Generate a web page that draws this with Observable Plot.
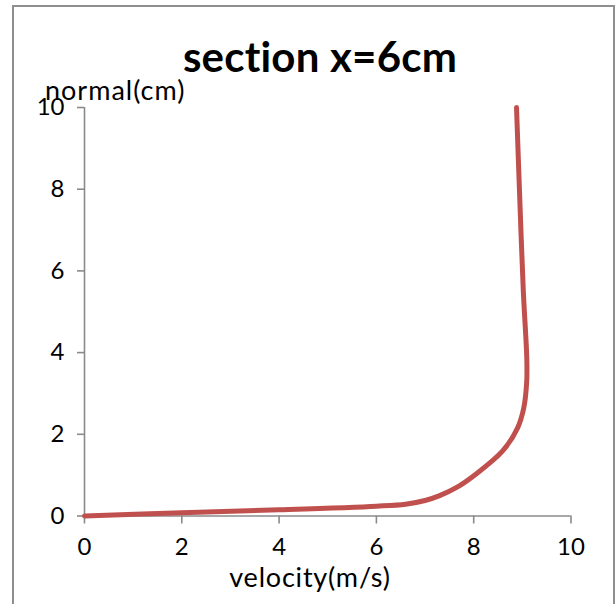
<!DOCTYPE html>
<html>
<head>
<meta charset="utf-8">
<script src="https://cdn.jsdelivr.net/npm/d3@7"></script>
<script src="https://cdn.jsdelivr.net/npm/@observablehq/plot@0.6"></script>
<style>
  html, body { margin: 0; padding: 0; background: #fff; overflow: hidden; }
  #wrap { position: relative; width: 616px; height: 604px; overflow: hidden; font-family: Lato, "Open Sans", sans-serif; }
  #border { position: absolute; left: 12px; top: 5px; width: 603px; height: 640px; border: 2px solid #8e8e8e; box-sizing: border-box; pointer-events: none; }
  .lbl { position: absolute; white-space: nowrap; color: #000; line-height: 1; }
  #title { left: 0; width: 640px; top: 35px; text-align: center; font-weight: bold; font-size: 42px; letter-spacing: 0.2px; }
  #ylab { left: 45px; top: 76px; font-size: 27px; letter-spacing: 1px; }
  #xlab { left: 0; width: 620px; top: 563px; text-align: center; font-size: 27px; letter-spacing: 0.8px; }
</style>
</head>
<body>
<div id="wrap">
  <div id="chart"></div>
  <div id="border"></div>
  <div class="lbl" id="title"></div>
  <div class="lbl" id="ylab"></div>
  <div class="lbl" id="xlab"></div>
</div>
<script>
const titleText = "section x=6cm";
const xLabel = "velocity(m/s)";
const yLabel = "normal(cm)";
const xTicks = [0, 2, 4, 6, 8, 10];
const yTicks = [0, 2, 4, 6, 8, 10];
const velocity = [0, 2, 4, 6, 6.6, 7.0, 7.3, 7.65, 8.05, 8.6, 8.9, 9.03, 9.09, 9.09, 9.02, 8.94, 8.88];
const normal   = [0, 0.08, 0.15, 0.24, 0.29, 0.38, 0.5, 0.7, 1.03, 1.6, 2.15, 2.65, 3.3, 3.9, 5.5, 8.0, 10];

const data = velocity.map((v, i) => ({v, n: normal[i]}));
const axisColor = "#8a8a8a";

const chart = Plot.plot({
  width: 616,
  height: 604,
  marginLeft: 84,
  marginRight: 45.5,
  marginTop: 107,
  marginBottom: 88.5,
  style: {fontFamily: "Lato, 'Open Sans', sans-serif", fontSize: "24px", color: "#000", background: "transparent", overflow: "visible"},
  x: {domain: [0, 10]},
  y: {domain: [0, 10]},
  marks: [
    Plot.axisX({ticks: xTicks, tickSize: 8, tickPadding: 14, stroke: axisColor, strokeWidth: 1.6, fill: "#000", label: null, fontSize: 24}),
    Plot.axisY({ticks: yTicks, tickSize: 7, tickPadding: 13, stroke: axisColor, strokeWidth: 1.6, fill: "#000", label: null, fontSize: 24}),
    Plot.ruleY([0], {stroke: axisColor, strokeWidth: 1.6}),
    Plot.ruleX([0], {stroke: axisColor, strokeWidth: 1.6}),
    Plot.line(data, {x: "v", y: "n", stroke: "#C0504D", strokeWidth: 5, curve: "catmull-rom"})
  ]
});
document.getElementById("chart").appendChild(chart);
document.getElementById("title").textContent = titleText;
document.getElementById("xlab").textContent = xLabel;
document.getElementById("ylab").textContent = yLabel;
</script>
</body>
</html>
